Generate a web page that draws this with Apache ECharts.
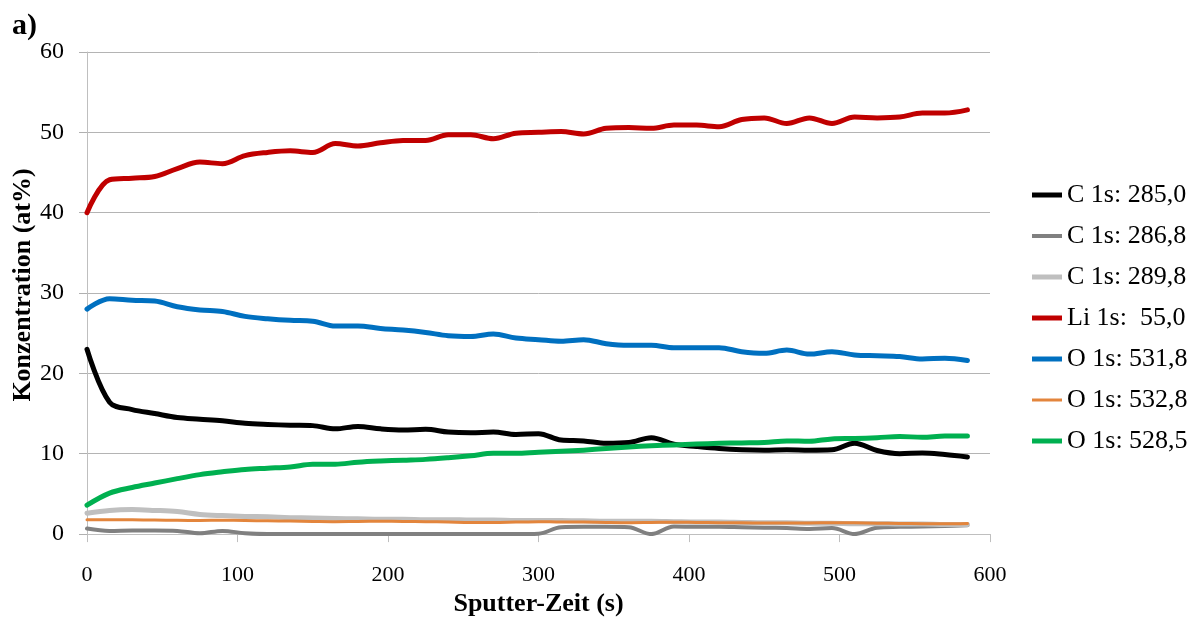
<!DOCTYPE html>
<html>
<head>
<meta charset="utf-8">
<title>XPS Tiefenprofil</title>
<script src="https://cdn.jsdelivr.net/npm/echarts@6/dist/echarts.min.js"></script>
<style>
  html, body { margin: 0; padding: 0; background: #ffffff; }
  #chart { width: 1192px; height: 622px; }
</style>
</head>
<body>
<div id="chart"></div>
<script>
// Sputter time in seconds (one measurement every 15 s)
const sputterTime = [0, 15, 30, 45, 60, 75, 90, 105, 120, 135, 150, 165, 180, 195, 210, 225, 240, 255, 270, 285,
  300, 315, 330, 345, 360, 375, 390, 405, 420, 435, 450, 465, 480, 495, 510, 525, 540, 555, 570, 585];

// Concentrations in at%
const c285 = [23.0, 16.4, 15.5, 15.0, 14.5, 14.3, 14.1, 13.8, 13.65, 13.55, 13.5, 13.1, 13.4, 13.1, 12.95, 13.05, 12.7, 12.6, 12.7, 12.4,
  12.5, 11.7, 11.6, 11.3, 11.4, 12.0, 11.2, 10.9, 10.65, 10.5, 10.45, 10.5, 10.45, 10.5, 11.3, 10.4, 10.0, 10.1, 9.9, 9.6];
const c2868 = [0.7, 0.4, 0.45, 0.45, 0.4, 0.1, 0.4, 0.1, 0.0, 0.0, 0.0, 0.0, 0.0, 0.0, 0.0, 0.0, 0.0, 0.0, 0.0, 0.0,
  0.05, 0.85, 0.9, 0.9, 0.85, 0.0, 0.95, 0.9, 0.9, 0.85, 0.8, 0.75, 0.65, 0.75, 0.0, 0.8, 0.9, 0.95, 1.0, 1.1];
const c2898 = [2.6, 2.95, 3.05, 2.95, 2.8, 2.45, 2.3, 2.2, 2.15, 2.05, 2.0, 1.95, 1.9, 1.85, 1.85, 1.8, 1.8, 1.75, 1.75, 1.7,
  1.7, 1.7, 1.65, 1.6, 1.6, 1.6, 1.55, 1.5, 1.5, 1.45, 1.4, 1.4, 1.35, 1.35, 1.3, 1.3, 1.25, 1.25, 1.2, 1.2];
const li550 = [40.0, 44.1, 44.3, 44.5, 45.5, 46.3, 46.1, 47.1, 47.5, 47.7, 47.5, 48.6, 48.3, 48.7, 49.0, 49.0, 49.7, 49.7, 49.2, 49.9,
  50.0, 50.1, 49.8, 50.5, 50.6, 50.5, 50.9, 50.9, 50.7, 51.6, 51.8, 51.1, 51.8, 51.1, 51.9, 51.8, 51.9, 52.4, 52.4, 52.8];
const o5318 = [28.0, 29.3, 29.1, 29.0, 28.3, 27.9, 27.7, 27.1, 26.8, 26.6, 26.5, 25.9, 25.9, 25.6, 25.4, 25.1, 24.7, 24.6, 24.9, 24.4,
  24.2, 24.0, 24.2, 23.7, 23.5, 23.5, 23.2, 23.2, 23.2, 22.7, 22.5, 22.9, 22.4, 22.7, 22.3, 22.2, 22.1, 21.8, 21.9, 21.6];
const o5328 = [1.8, 1.8, 1.78, 1.75, 1.72, 1.7, 1.72, 1.7, 1.65, 1.62, 1.58, 1.55, 1.58, 1.6, 1.58, 1.55, 1.5, 1.45, 1.45, 1.5,
  1.55, 1.5, 1.5, 1.45, 1.42, 1.45, 1.48, 1.45, 1.42, 1.4, 1.38, 1.38, 1.38, 1.42, 1.4, 1.35, 1.33, 1.3, 1.28, 1.32];
const o5285 = [3.6, 5.1, 5.8, 6.35, 6.9, 7.4, 7.75, 8.05, 8.2, 8.35, 8.7, 8.7, 8.95, 9.1, 9.2, 9.3, 9.5, 9.75, 10.05, 10.05,
  10.2, 10.3, 10.45, 10.65, 10.85, 11.0, 11.1, 11.2, 11.3, 11.35, 11.4, 11.6, 11.55, 11.85, 11.9, 12.0, 12.15, 12.05, 12.2, 12.2];

const seriesNames = ['C 1s: 285,0', 'C 1s: 286,8', 'C 1s: 289,8', 'Li 1s:  55,0', 'O 1s: 531,8', 'O 1s: 532,8', 'O 1s: 528,5'];
const seriesValues = [c285, c2868, c2898, li550, o5318, o5328, o5285];
const seriesColors = ['#000000', '#808080', '#bfbfbf', '#c00000', '#0070c0', '#e3853c', '#00b050'];
const seriesWidths = [5, 4, 5, 5, 5, 3, 5];

const serif = '"Liberation Serif", "Times New Roman", serif';

const chart = echarts.init(document.getElementById('chart'), null, { renderer: 'canvas' });

const series = seriesNames.map((name, k) => ({
  name: name,
  type: 'line',
  data: sputterTime.map((t, i) => [t, seriesValues[k][i]]),
  smooth: 0.35,
  showSymbol: false,
  symbol: 'none',
  color: seriesColors[k],
  lineStyle: { width: seriesWidths[k], color: seriesColors[k], cap: 'round', join: 'round' },
  emphasis: { disabled: true },
  animation: false
}));

// Legend keys: a plain bar as thick as the series line
const legendData = seriesNames.map((name, k) => ({
  name: name,
  icon: 'path://M0,0H30V' + seriesWidths[k] + 'H0Z',
  itemStyle: { color: seriesColors[k], borderWidth: 0 }
}));

chart.setOption({
  animation: false,
  backgroundColor: '#ffffff',
  textStyle: { fontFamily: serif },
  grid: { left: 87, right: 202, top: 52, bottom: 84, containLabel: false },
  graphic: [{
    type: 'text',
    left: 12,
    top: 11,
    style: { text: 'a)', font: 'bold 30px ' + serif, fill: '#000000' }
  }, {
    type: 'text',
    x: 23,
    y: 285,
    rotation: Math.PI / 2,
    style: {
      text: 'Konzentration (at%)',
      font: 'bold 26px ' + serif,
      fill: '#000000',
      align: 'center',
      verticalAlign: 'middle'
    }
  }],
  legend: {
    orient: 'vertical',
    left: 1027,
    top: 177,
    itemWidth: 30,
    itemHeight: 14,
    itemGap: 15,
    symbolKeepAspect: true,
    selectedMode: false,
    textStyle: { fontFamily: serif, fontSize: 26, color: '#000000', lineHeight: 26 },
    data: legendData
  },
  xAxis: {
    type: 'value',
    min: 0,
    max: 600,
    interval: 100,
    name: 'Sputter-Zeit (s)',
    nameLocation: 'middle',
    nameGap: 56,
    nameTextStyle: { fontFamily: serif, fontSize: 26, fontWeight: 'bold', color: '#000000' },
    axisLine: { show: true, lineStyle: { color: '#bfbfbf', width: 1 } },
    axisTick: { show: true, length: 8, lineStyle: { color: '#bfbfbf' } },
    axisLabel: { fontFamily: serif, fontSize: 22, color: '#000000', margin: 30 },
    splitLine: { show: false }
  },
  yAxis: {
    type: 'value',
    min: 0,
    max: 60,
    interval: 10,
    axisLine: { show: true, lineStyle: { color: '#bfbfbf', width: 1 } },
    axisTick: { show: true, length: 8, lineStyle: { color: '#b0b0b0' } },
    axisLabel: { fontFamily: serif, fontSize: 24, color: '#000000', margin: 23 },
    splitLine: { show: true, lineStyle: { color: '#b4b4b4', width: 1 } }
  },
  series: series
});
</script>
</body>
</html>
